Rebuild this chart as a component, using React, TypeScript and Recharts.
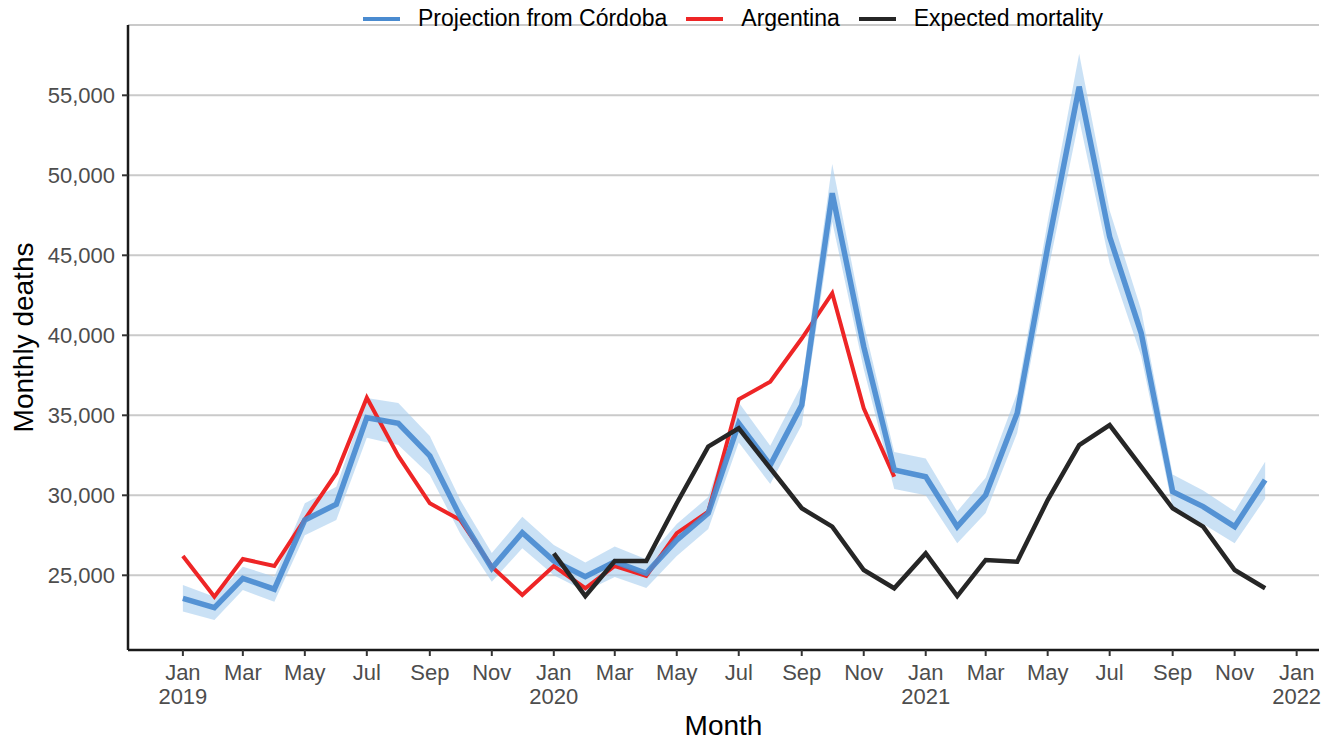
import { ComposedChart, Area, Line, XAxis, YAxis, CartesianGrid } from 'recharts';

const months = [
  '2019-01', '2019-02', '2019-03', '2019-04', '2019-05', '2019-06',
  '2019-07', '2019-08', '2019-09', '2019-10', '2019-11', '2019-12',
  '2020-01', '2020-02', '2020-03', '2020-04', '2020-05', '2020-06',
  '2020-07', '2020-08', '2020-09', '2020-10', '2020-11', '2020-12',
  '2021-01', '2021-02', '2021-03', '2021-04', '2021-05', '2021-06',
  '2021-07', '2021-08', '2021-09', '2021-10', '2021-11', '2021-12',
];

// Projection from Córdoba, with its interval
const projection = [
  23560, 22980, 24810, 24130, 28460, 29440, 34850, 34500, 32460, 28660, 25440, 27660,
  25900, 24910, 25850, 25130, 27200, 28880, 34500, 31890, 35640, 48880, 39290, 31580,
  31160, 28040, 30020, 35130, 45500, 55540, 46160, 40140, 30230, 29290, 28040, 30960,
];
const projLow = [
  22730, 22200, 24080, 23350, 27500, 28460, 33600, 33140, 31270, 27600, 24600, 26690,
  25000, 24000, 24900, 24200, 26200, 27900, 33300, 30700, 34400, 47100, 37900, 30400,
  30000, 27000, 28900, 33900, 43900, 53500, 44500, 38700, 29200, 28200, 27000, 29800,
];
const projHigh = [
  24390, 23660, 25540, 24910, 29500, 30540, 36080, 35770, 33700, 29700, 26390, 28660,
  26900, 25800, 26800, 26000, 28200, 29900, 35800, 33100, 36900, 50700, 40700, 32700,
  32300, 29000, 31100, 36400, 47100, 57600, 47800, 41600, 31300, 30300, 29000, 32100,
];

// Argentina, Jan 2019 - Dec 2020
const argentina = [
  26200, 23660, 26020, 25580, 28500, 31380, 36100, 32460, 29500, 28450, 25540, 23770,
  25580, 24190, 25580, 24960, 27630, 28980, 36000, 37100, 39800, 42630, 35440, 31160,
];

// Expected mortality, Jan 2020 - Dec 2021
const expected = [
  26370, 23700, 25890, 25890, 29500, 33040, 34190, 31690, 29190, 28040, 25330, 24190,
  26370, 23700, 25960, 25850, 29700, 33140, 34390, 31790, 29190, 28040, 25330, 24190,
];

const xTicks = [
  '2019-01', '2019-03', '2019-05', '2019-07', '2019-09', '2019-11',
  '2020-01', '2020-03', '2020-05', '2020-07', '2020-09', '2020-11',
  '2021-01', '2021-03', '2021-05', '2021-07', '2021-09', '2021-11',
  '2022-01',
];
const monthNames = ['Jan', 'Feb', 'Mar', 'Apr', 'May', 'Jun', 'Jul', 'Aug', 'Sep', 'Oct', 'Nov', 'Dec'];
const yTicks = [25000, 30000, 35000, 40000, 45000, 50000, 55000];

const toTime = (m: string) => {
  const [y, mo] = m.split('-').map(Number);
  return Date.UTC(y, mo - 1, 1);
};

const data = months.map((m, i) => ({
  t: toTime(m),
  proj: projection[i],
  band: [projLow[i], projHigh[i]],
  arg: i < argentina.length ? argentina[i] : null,
  exp: i >= 12 ? expected[i - 12] : null,
}));

const FONT = '"Liberation Sans", Arial, sans-serif';
const BLUE = '#4a8bd0';
const RED = '#ee2526';
const BLACK = '#262626';

const MonthTick = (props: any) => {
  const { x, y, payload } = props;
  const d = new Date(payload.value);
  const mo = d.getUTCMonth();
  return (
    <text x={x} textAnchor="middle" fill="#4d4d4d" fontSize={22} fontFamily={FONT}>
      <tspan x={x} y={y + 22}>{monthNames[mo]}</tspan>
      {mo === 0 && <tspan x={x} y={y + 46}>{d.getUTCFullYear()}</tspan>}
    </text>
  );
};

const legendItems = [
  { label: 'Projection from Córdoba', color: BLUE },
  { label: 'Argentina', color: RED },
  { label: 'Expected mortality', color: BLACK },
];

export default function App() {
  return (
    <div style={{ position: 'absolute', left: 0, top: 0, width: 1336, height: 740, background: '#fff' }}>
      <ComposedChart
        width={1336}
        height={740}
        data={data}
        margin={{ top: 25, right: 17, bottom: 0, left: 0 }}
      >
        <CartesianGrid vertical={false} stroke="#cacaca" strokeWidth={2} />
        <XAxis
          dataKey="t"
          type="number"
          scale="time"
          domain={[Date.UTC(2018, 10, 8), Date.UTC(2022, 0, 23)]}
          ticks={xTicks.map(toTime)}
          interval={0}
          tick={<MonthTick />}
          tickSize={6}
          tickLine={{ stroke: '#333', strokeWidth: 2 }}
          axisLine={{ stroke: '#1a1a1a', strokeWidth: 2.5 }}
          height={90}
          allowDataOverflow
          label={(p: any) => {
            const vb = p.viewBox;
            return (
              <text x={vb.x + vb.width / 2} y={vb.y + 85} textAnchor="middle" fontSize={28} fontFamily={FONT} fill="#000">
                Month
              </text>
            );
          }}
        />
        <YAxis
          type="number"
          domain={[20331, 59394]}
          ticks={yTicks}
          interval={0}
          allowDataOverflow
          width={128}
          tickSize={6}
          tickMargin={7}
          tick={{ fill: '#4d4d4d', fontSize: 22, fontFamily: FONT }}
          tickFormatter={(v: number) => v.toLocaleString('en-US')}
          tickLine={{ stroke: '#333', strokeWidth: 2 }}
          axisLine={{ stroke: '#1a1a1a', strokeWidth: 2.5 }}
          label={(p: any) => {
            const vb = p.viewBox;
            const cx = vb.x + 23;
            const cy = vb.y + vb.height / 2;
            return (
              <text
                x={cx}
                y={cy}
                transform={`rotate(-90, ${cx}, ${cy})`}
                textAnchor="middle"
                dominantBaseline="central"
                fontSize={28}
                fontFamily={FONT}
                fill="#000"
              >
                Monthly deaths
              </text>
            );
          }}
        />
        <Area
          dataKey="band"
          type="linear"
          stroke="none"
          fill="#a6cdee"
          fillOpacity={0.6}
          isAnimationActive={false}
        />
        <Line dataKey="arg" type="linear" stroke={RED} strokeWidth={4} dot={false} isAnimationActive={false} />
        <Line dataKey="proj" type="linear" stroke={BLUE} strokeWidth={5.5} strokeOpacity={0.92} dot={false} isAnimationActive={false} />
        <Line dataKey="exp" type="linear" stroke={BLACK} strokeWidth={4.5} dot={false} isAnimationActive={false} />
      </ComposedChart>
      <div
        style={{
          position: 'absolute',
          left: 363,
          top: 5,
          display: 'flex',
          alignItems: 'center',
          fontFamily: FONT,
          fontSize: 23,
          color: '#000',
          whiteSpace: 'nowrap',
        }}
      >
        {legendItems.map((it) => (
          <div key={it.label} style={{ display: 'flex', alignItems: 'center', marginRight: 19 }}>
            <div style={{ width: 37, height: 4, background: it.color, marginRight: 18 }} />
            <span>{it.label}</span>
          </div>
        ))}
      </div>
    </div>
  );
}
